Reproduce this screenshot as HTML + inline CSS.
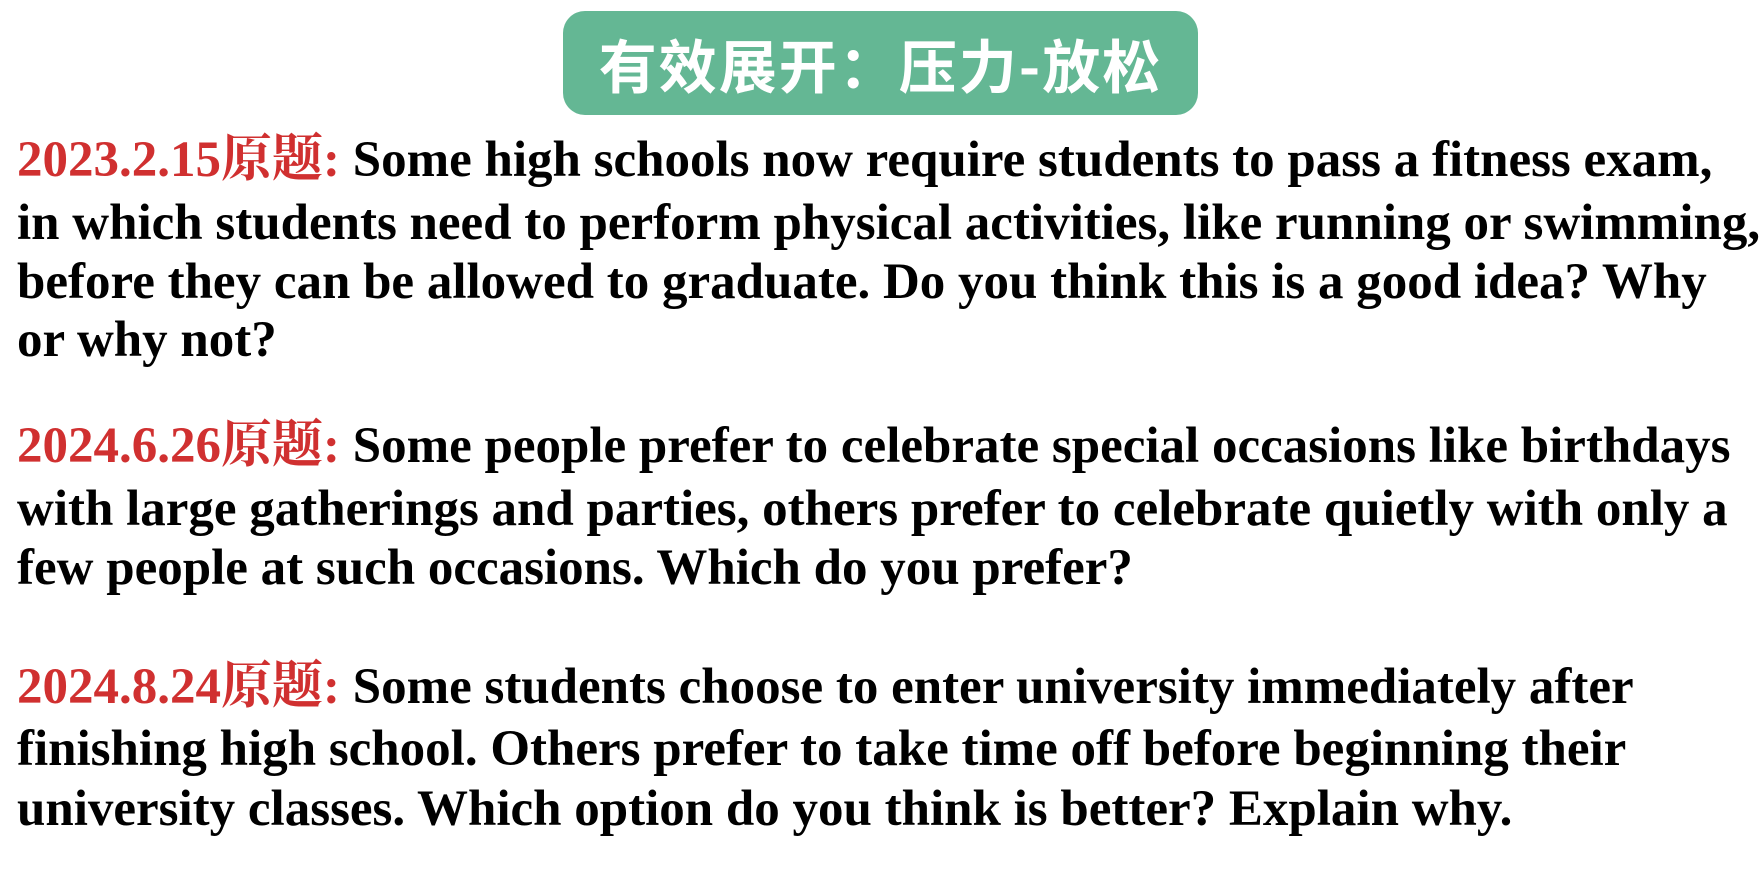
<!DOCTYPE html>
<html><head><meta charset="utf-8"><style>
body{margin:0;width:1764px;height:896px;background:#fff;position:relative;overflow:hidden}
.t{position:absolute;left:563px;top:11px;width:635px;height:104px;background:#64b794;border-radius:22px;color:#fff;font:bold 58px "Noto Sans CJK SC","WenQuanYi Zen Hei",sans-serif;text-align:center;line-height:104px;letter-spacing:2px}
.l{position:absolute;left:17px;white-space:nowrap;font:bold 51px/1 "Liberation Serif","Noto Serif CJK SC",serif;color:#000}
.r{color:#d03030}
</style></head><body>
<div class="t">有效展开：压力-放松</div>
<div>
<div class="l" style="top:135px"><span class="r">2023.2.15原题:</span> Some high schools now require students to pass a fitness exam,</div>
<div class="l" style="top:198px">in which students need to perform physical activities, like running or swimming,</div>
<div class="l" style="top:257px">before they can be allowed to graduate. Do you think this is a good idea? Why</div>
<div class="l" style="top:315px">or why not?</div>
</div>
<div>
<div class="l" style="top:421px"><span class="r">2024.6.26原题:</span> Some people prefer to celebrate special occasions like birthdays</div>
<div class="l" style="top:484px">with large gatherings and parties, others prefer to celebrate quietly with only a</div>
<div class="l" style="top:543px">few people at such occasions. Which do you prefer?</div>
</div>
<div>
<div class="l" style="top:662px"><span class="r">2024.8.24原题:</span> Some students choose to enter university immediately after</div>
<div class="l" style="top:724px">finishing high school. Others prefer to take time off before beginning their</div>
<div class="l" style="top:784px">university classes. Which option do you think is better? Explain why.</div>
</div>
</body></html>
